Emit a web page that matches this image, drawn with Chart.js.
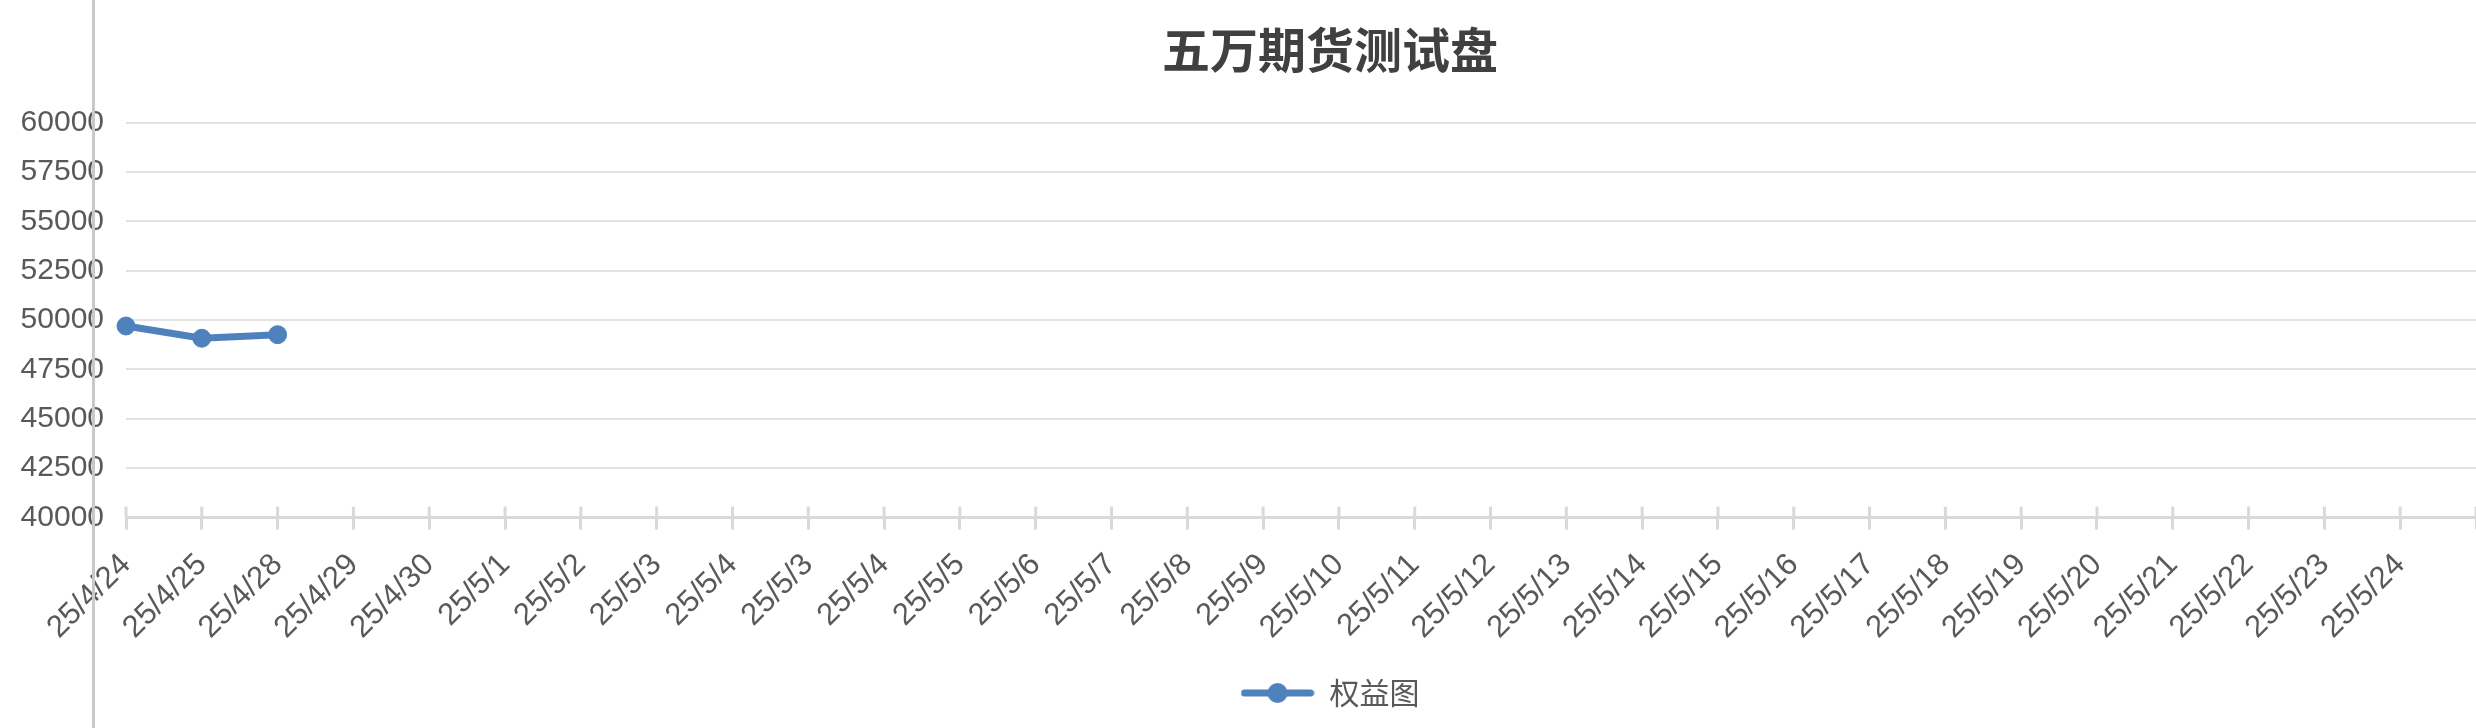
<!DOCTYPE html>
<html>
<head>
<meta charset="utf-8">
<script src="https://cdn.jsdelivr.net/npm/chart.js@4"></script>
<style>
  html, body { margin: 0; padding: 0; background: #fff; overflow: hidden; }
  .wrap { position: relative; width: 2660px; height: 728px; }
  .edge { position: absolute; left: 92px; top: 0; width: 3px; height: 728px; background: #c9c9c9; z-index: 2; }
</style>
</head>
<body>
<div class="wrap">
  <canvas id="equityChart" width="2660" height="728"></canvas>
  <div class="edge"></div>
</div>
<script>
const chartTitle = '五万期货测试盘';
const seriesName = '权益图';
const dateLabels = [
  '25/4/24', '25/4/25', '25/4/28', '25/4/29', '25/4/30', '25/5/1', '25/5/2', '25/5/3',
  '25/5/4', '25/5/3', '25/5/4', '25/5/5', '25/5/6', '25/5/7', '25/5/8', '25/5/9',
  '25/5/10', '25/5/11', '25/5/12', '25/5/13', '25/5/14', '25/5/15', '25/5/16', '25/5/17',
  '25/5/18', '25/5/19', '25/5/20', '25/5/21', '25/5/22', '25/5/23', '25/5/24', ''
];
const equity = [49700, 49080, 49260];
const yMin = 40000;
const yMax = 60000;
const yStep = 2500;

const lineColor = '#4f81bd';
const textColor = '#595959';

// legend marker: line with a dot in the middle
function legendMarker() {
  const c = document.createElement('canvas');
  c.width = 74;
  c.height = 22;
  const g = c.getContext('2d');
  g.strokeStyle = lineColor;
  g.lineWidth = 7;
  g.lineCap = 'round';
  g.beginPath();
  g.moveTo(4, 11);
  g.lineTo(70, 11);
  g.stroke();
  g.fillStyle = lineColor;
  g.beginPath();
  g.arc(37, 11, 10, 0, Math.PI * 2);
  g.fill();
  return c;
}
const marker = legendMarker();

// short tick stubs above the x axis line
const upperTicks = {
  id: 'upperTicks',
  afterDatasetsDraw(chart) {
    const x = chart.scales.x;
    const ctx = chart.ctx;
    ctx.save();
    ctx.strokeStyle = '#d9d9d9';
    ctx.lineWidth = 3;
    x.ticks.forEach((t, i) => {
      const px = x.getPixelForTick(i);
      ctx.beginPath();
      ctx.moveTo(px, x.top - 11);
      ctx.lineTo(px, x.top);
      ctx.stroke();
    });
    ctx.restore();
  }
};

const ctx = document.getElementById('equityChart').getContext('2d');
new Chart(ctx, {
  type: 'line',
  data: {
    labels: dateLabels,
    datasets: [{
      label: seriesName,
      data: equity,
      borderColor: lineColor,
      backgroundColor: lineColor,
      borderWidth: 7,
      pointRadius: 9,
      pointBorderWidth: 1,
      pointBackgroundColor: lineColor,
      pointBorderColor: lineColor,
      tension: 0,
      fill: false
    }]
  },
  options: {
    responsive: false,
    animation: false,
    layout: { padding: { left: 0, right: 0, top: 0, bottom: 10 } },
    plugins: {
      title: {
        display: true,
        text: chartTitle,
        color: '#404040',
        font: { family: '"Noto Sans CJK SC", sans-serif', size: 48, weight: 'bold' },
        padding: { top: 21, bottom: 44 }
      },
      legend: {
        position: 'bottom',
        labels: {
          color: textColor,
          font: { family: '"Noto Sans CJK SC", sans-serif', size: 30 },
          usePointStyle: true,
          pointStyleWidth: 74,
          boxHeight: 22,
          padding: 15,
          generateLabels(chart) {
            const items = Chart.defaults.plugins.legend.labels.generateLabels(chart);
            items.forEach(it => { it.pointStyle = marker; });
            return items;
          }
        }
      },
      tooltip: { enabled: false }
    },
    scales: {
      x: {
        offset: false,
        border: { display: true, color: '#d9d9d9', width: 3 },
        grid: { drawOnChartArea: false, color: '#d9d9d9', lineWidth: 3, tickLength: 12 },
        ticks: {
          color: textColor,
          font: { family: '"Liberation Sans", Arial, sans-serif', size: 31 },
          minRotation: 45,
          maxRotation: 45,
          autoSkip: false,
          padding: 17
        }
      },
      y: {
        min: yMin,
        max: yMax,
        border: { display: false },
        grid: { color: '#e3e3e3', lineWidth: 2, drawTicks: false },
        afterFit(scale) { scale.width = 126; },
        ticks: {
          stepSize: yStep,
          color: textColor,
          font: { family: '"Liberation Sans", Arial, sans-serif', size: 30 },
          padding: 22,
          callback: value => String(value)
        }
      },
      // empty spacer on the right so the plot ends at the window edge
      spacer: {
        type: 'linear',
        position: 'right',
        display: true,
        border: { display: false },
        grid: { display: false },
        ticks: { display: false },
        afterFit(scale) { scale.width = 184; }
      }
    }
  },
  plugins: [upperTicks]
});
</script>
</body>
</html>
